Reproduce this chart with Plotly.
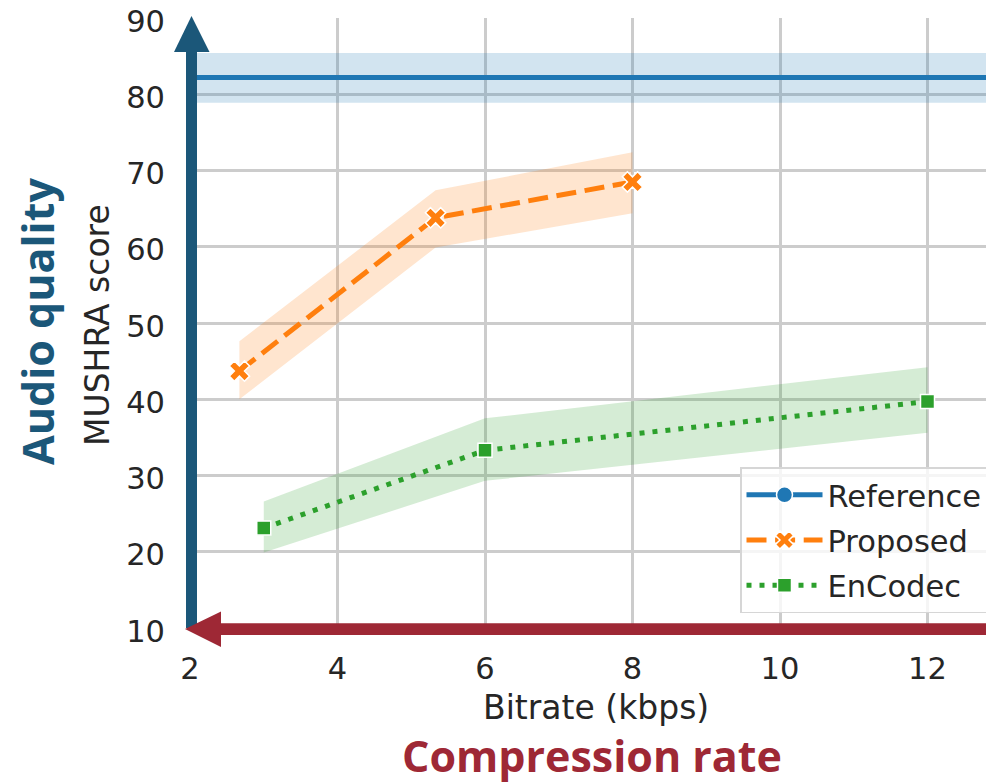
import plotly.graph_objects as go

# ---------------- data ----------------
bitrate_proposed = [2.67, 5.33, 8.0]
mushra_proposed = [43.7, 63.8, 68.5]
proposed_lo = [40.0, 59.9, 64.4]
proposed_hi = [47.6, 67.4, 72.4]

bitrate_encodec = [3.0, 6.0, 12.0]
mushra_encodec = [23.1, 33.3, 39.7]
encodec_lo = [19.9, 29.3, 35.6]
encodec_hi = [26.6, 37.5, 44.2]

bitrate_reference = [1.0, 14.0]
mushra_reference = [82.2, 82.2]
reference_lo = [78.9, 78.9]
reference_hi = [85.4, 85.4]

x_ticks = [2, 4, 6, 8, 10, 12]
y_ticks = [10, 20, 30, 40, 50, 60, 70, 80, 90]

# ---------------- style ----------------
PAGE_W, PAGE_H = 994, 782
OFF = 8  # default body margin of the page
W, H = PAGE_W - OFF, PAGE_H - OFF
PLOT_L, PLOT_R, PLOT_T, PLOT_B = 190, 994, 18, 628  # page pixels
L, T = PLOT_L - OFF, PLOT_T - OFF
R, B = PAGE_W - PLOT_R, PAGE_H - PLOT_B
PW, PH = PLOT_R - PLOT_L, PLOT_B - PLOT_T

C_REF = "#1f77b4"
C_PROP = "#ff7f0e"
C_ENC = "#2ca02c"
BLUE = "#1b5779"
RED = "#9e2835"
TXT = "#262626"
FONT = "DejaVu Sans"


def px(x):
    return (x - PLOT_L) / PW


def py(y):
    return (PLOT_B - y) / PH


fig = go.Figure()


def band(xs, lo, hi, color):
    fig.add_trace(go.Scatter(x=xs, y=lo, mode="lines", line=dict(width=0),
                             showlegend=False, hoverinfo="skip"))
    fig.add_trace(go.Scatter(x=xs, y=hi, mode="lines", line=dict(width=0),
                             fill="tonexty", fillcolor=color,
                             showlegend=False, hoverinfo="skip"))


band(bitrate_reference, reference_lo, reference_hi, "rgba(31,119,180,0.2)")
fig.add_trace(go.Scatter(
    x=bitrate_reference, y=mushra_reference, name="Reference", legendgroup="a",
    mode="lines+markers", line=dict(color=C_REF, width=5),
    marker=dict(symbol="circle", size=16, color=C_REF,
                line=dict(color="white", width=1.5))))

band(bitrate_proposed, proposed_lo, proposed_hi, "rgba(255,127,14,0.2)")
fig.add_trace(go.Scatter(
    x=bitrate_proposed, y=mushra_proposed, name="Proposed", legendgroup="b",
    mode="lines+markers", line=dict(color=C_PROP, width=5, dash="20px,8.6px"),
    marker=dict(symbol="x", size=18, color=C_PROP,
                line=dict(color="white", width=1.5))))

band(bitrate_encodec, encodec_lo, encodec_hi, "rgba(44,160,44,0.2)")
fig.add_trace(go.Scatter(
    x=bitrate_encodec, y=mushra_encodec, name="EnCodec", legendgroup="c",
    mode="lines+markers", line=dict(color=C_ENC, width=5, dash="5px,8px"),
    marker=dict(symbol="square", size=14, color=C_ENC,
                line=dict(color="white", width=1.5))))

# ---------------- arrows ----------------
shapes = [
    dict(type="rect", xref="paper", yref="paper",
         x0=px(186), x1=px(197), y0=py(628), y1=py(50),
         fillcolor=BLUE, line=dict(width=0), layer="above"),
    dict(type="path", xref="paper", yref="paper",
         path=f"M{px(174)},{py(52)} L{px(209.5)},{py(52)} L{px(191.5)},{py(16)} Z",
         fillcolor=BLUE, line=dict(width=0), layer="above"),
    dict(type="rect", xref="paper", yref="paper",
         x0=px(218), x1=px(1000), y0=py(635), y1=py(623.3),
         fillcolor=RED, line=dict(width=0), layer="above"),
    dict(type="path", xref="paper", yref="paper",
         path=f"M{px(221)},{py(611.5)} L{px(221)},{py(647)} L{px(185)},{py(629)} Z",
         fillcolor=RED, line=dict(width=0), layer="above"),
]

annotations = [
    dict(text="MUSHRA score", xref="paper", yref="paper", x=px(97), y=py(325),
         xanchor="center", yanchor="middle",
         showarrow=False, textangle=-90, font=dict(family=FONT, size=33, color=TXT)),
    dict(text="Bitrate (kbps)", xref="paper", yref="paper", x=px(596), y=py(707),
         xanchor="center", yanchor="middle",
         showarrow=False, font=dict(family=FONT, size=33, color=TXT)),
    dict(text="<b>Audio quality</b>", xref="paper", yref="paper", x=px(37), y=py(322),
         xanchor="center", yanchor="middle",
         showarrow=False, textangle=-90, font=dict(family="Open Sans", size=43, color=BLUE)),
    dict(text="<b>Compression rate</b>", xref="paper", yref="paper", x=px(592), y=py(755),
         xanchor="center", yanchor="middle",
         showarrow=False, font=dict(family="Open Sans", size=43, color=RED)),
]

fig.update_layout(
    width=W, height=H,
    margin=dict(l=L, r=R, t=T, b=B, pad=0, autoexpand=False),
    plot_bgcolor="white", paper_bgcolor="white",
    shapes=shapes, annotations=annotations,
    showlegend=True,
    legend=dict(x=px(988), y=py(613), xanchor="right", yanchor="bottom",
                traceorder="grouped", tracegroupgap=2.5, itemwidth=76,
                bgcolor="rgba(255,255,255,0.8)", bordercolor="#d6d6d6", borderwidth=1.5,
                font=dict(family=FONT, size=30.5, color=TXT)),
)

fig.update_xaxes(range=[2, 2 + PW / 73.75], tickvals=x_ticks, automargin=False,
                 showgrid=True, gridcolor="#cccccc", gridwidth=2.5,
                 zeroline=False, showline=False, ticks="", ticklabelstandoff=19,
                 tickfont=dict(family=FONT, size=30.5, color=TXT))
fig.update_yaxes(range=[10, 90.0001], tickvals=y_ticks, automargin=False,
                 showgrid=True, gridcolor="#cccccc", gridwidth=2.5,
                 zeroline=False, showline=False, ticks="", ticklabelstandoff=24,
                 ticklabelshift=3, ticklabeloverflow="allow",
                 tickfont=dict(family=FONT, size=30.5, color=TXT))

fig.write_html("out.html")
